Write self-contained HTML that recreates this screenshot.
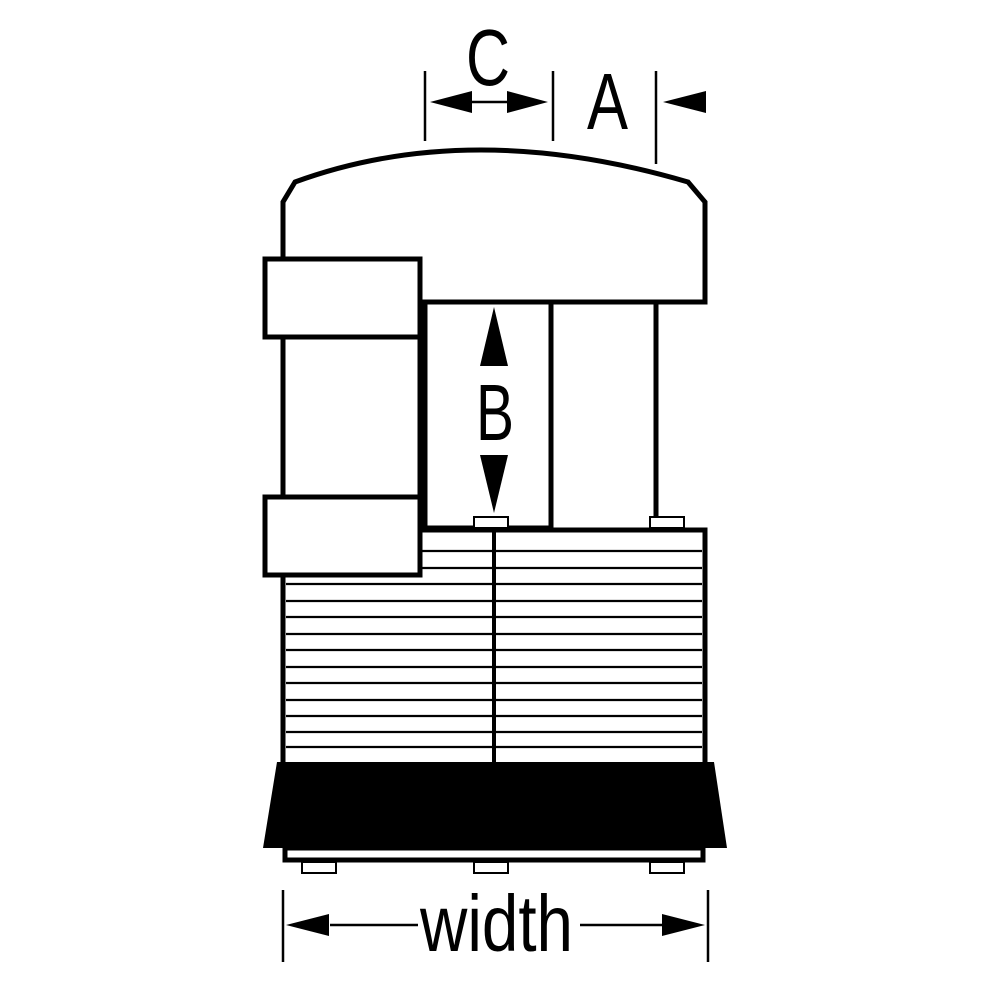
<!DOCTYPE html>
<html><head><style>html,body{margin:0;padding:0;background:#fff}</style></head>
<body>
<svg width="990" height="990" viewBox="0 0 990 990" xmlns="http://www.w3.org/2000/svg" font-family="Liberation Sans, sans-serif">
<rect width="990" height="990" fill="#fff"/>
<g fill="none" stroke="#000" stroke-width="5" stroke-linejoin="miter">
<!-- cap -->
<path d="M283 262 L283 202 L295 182 Q470 118 688 182 L705 202 L705 302 L422 302" fill="#fff"/>
<!-- windows -->
<rect x="425" y="302" width="126" height="226" fill="#fff"/>
<line x1="656" y1="302" x2="656" y2="520"/>
<!-- left column -->
<line x1="283" y1="336" x2="283" y2="500"/>
<line x1="420" y1="336" x2="420" y2="500"/>
<!-- body -->
<path d="M420 530 L705 530 L705 764 M283 575 L283 764" />
<rect x="265" y="259" width="155" height="78" fill="#fff"/>
<rect x="265" y="497" width="155" height="78" fill="#fff"/>
<!-- base strip -->
<rect x="285" y="848" width="418" height="12" fill="#fff"/>
</g>
<g stroke="#000" stroke-width="2.2">
<line x1="422" y1="551" x2="702" y2="551"/>
<line x1="422" y1="568" x2="702" y2="568"/>
<line x1="286" y1="584" x2="702" y2="584"/>
<line x1="286" y1="601" x2="702" y2="601"/>
<line x1="286" y1="617" x2="702" y2="617"/>
<line x1="286" y1="634" x2="702" y2="634"/>
<line x1="286" y1="650" x2="702" y2="650"/>
<line x1="286" y1="667" x2="702" y2="667"/>
<line x1="286" y1="683" x2="702" y2="683"/>
<line x1="286" y1="700" x2="702" y2="700"/>
<line x1="286" y1="716" x2="702" y2="716"/>
<line x1="286" y1="732" x2="702" y2="732"/>
<line x1="286" y1="747" x2="702" y2="747"/>
</g>
<line x1="494" y1="530" x2="494" y2="764" stroke="#000" stroke-width="4"/>
<!-- bolts -->
<g fill="#fff" stroke="#000" stroke-width="2">
<rect x="474" y="517" width="34" height="11"/>
<rect x="650" y="517" width="34" height="11"/>
<rect x="302" y="862" width="34" height="11"/>
<rect x="474" y="862" width="34" height="11"/>
<rect x="650" y="862" width="34" height="11"/>
</g>
<!-- black base -->
<polygon points="277,762 714,762 727,848 263,848" fill="#000"/>
<!-- B arrows -->
<polygon points="494,307 480,366 508,366" fill="#000"/>
<polygon points="480,455 508,455 494,513" fill="#000"/>
<text x="476" y="440" font-size="80" textLength="38" lengthAdjust="spacingAndGlyphs">B</text>
<!-- C / A dims -->
<g stroke="#000" stroke-width="2.5">
<line x1="425" y1="71" x2="425" y2="141"/>
<line x1="553" y1="71" x2="553" y2="141"/>
<line x1="656" y1="71" x2="656" y2="164"/>
<line x1="470" y1="102" x2="510" y2="102"/>
<line x1="283" y1="890" x2="283" y2="962"/>
<line x1="708" y1="890" x2="708" y2="962"/>
<line x1="330" y1="925" x2="418" y2="925"/>
<line x1="580" y1="925" x2="665" y2="925"/>
</g>
<polygon points="430,102 472,91 472,113" fill="#000"/>
<polygon points="548,102 507,91 507,113" fill="#000"/>
<polygon points="663,102 706,91 706,113" fill="#000"/>
<polygon points="286,925 329,914 329,936" fill="#000"/>
<polygon points="705,925 662,914 662,936" fill="#000"/>
<text x="466" y="85" font-size="80" textLength="44" lengthAdjust="spacingAndGlyphs">C</text>
<text x="587" y="129" font-size="80" textLength="41" lengthAdjust="spacingAndGlyphs">A</text>
<text x="420" y="951" font-size="80" textLength="153" lengthAdjust="spacingAndGlyphs">width</text>
</svg>
</body></html>
